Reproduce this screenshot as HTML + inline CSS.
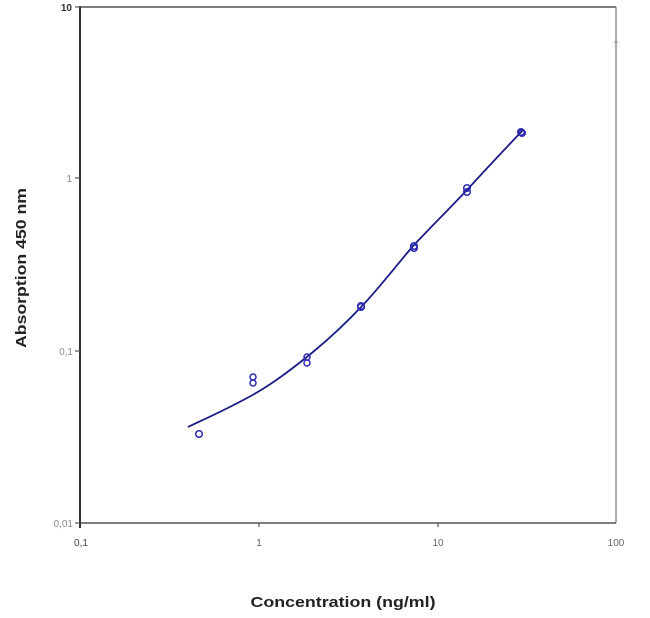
<!DOCTYPE html>
<html><head><meta charset="utf-8"><style>
html,body{margin:0;padding:0;background:#fff;}
svg{display:block;}
</style></head><body>
<svg width="650" height="618" viewBox="0 0 650 618" xmlns="http://www.w3.org/2000/svg">
<rect width="650" height="618" fill="#fff"/>
<!-- frame -->
<line x1="80" y1="7" x2="616" y2="7" stroke="#555" stroke-width="1.6"/>
<line x1="616" y1="7" x2="616" y2="523" stroke="#777" stroke-width="1.2"/>
<line x1="80" y1="523" x2="616" y2="523" stroke="#555" stroke-width="1.6"/>
<line x1="80" y1="6" x2="80" y2="528" stroke="#333" stroke-width="2"/>
<!-- ticks -->
<g stroke="#555" stroke-width="1.2">
<line x1="75" y1="7" x2="80" y2="7"/>
<line x1="75" y1="178" x2="80" y2="178"/>
<line x1="75" y1="351" x2="80" y2="351"/>
<line x1="75" y1="523" x2="80" y2="523"/>
<line x1="259" y1="523" x2="259" y2="527"/>
<line x1="438" y1="523" x2="438" y2="527"/>
<line x1="614" y1="42" x2="618" y2="42" stroke="#999"/>
</g>
<!-- tick labels -->
<g font-family="Liberation Sans, sans-serif" font-size="10" fill="#555">
<text x="72" y="11" text-anchor="end" fill="#333" font-weight="bold">10</text>
<text x="72" y="182" text-anchor="end" fill="#888">1</text>
<text x="73" y="355" text-anchor="end" fill="#888">0,1</text>
<text x="73" y="527" text-anchor="end" fill="#888">0,01</text>
<text x="81" y="546" text-anchor="middle" fill="#444">0,1</text>
<text x="259" y="546" text-anchor="middle" fill="#666">1</text>
<text x="438" y="546" text-anchor="middle" fill="#666">10</text>
<text x="616" y="546" text-anchor="middle" fill="#666">100</text>
</g>
<!-- axis titles -->
<text x="343" y="607" text-anchor="middle" font-family="Liberation Sans, sans-serif" font-size="15" font-weight="bold" fill="#222" textLength="185" lengthAdjust="spacingAndGlyphs">Concentration (ng/ml)</text>
<text transform="translate(26,268) rotate(-90)" text-anchor="middle" font-family="Liberation Sans, sans-serif" font-size="15" font-weight="bold" fill="#222" textLength="160" lengthAdjust="spacingAndGlyphs">Absorption 450 nm</text>
<!-- fit curve -->
<path d="M188,427 C207,418 227,409 247,398 C270,386 292,369 313,352 C330,338 346,323 362,306 C380,287 396,266 413,246 C431,227 449,209 467,190 C485,170 504,150 523,130" fill="none" stroke="#1c1c88" stroke-width="1.8" stroke-linejoin="round"/>
<!-- data points -->
<g fill="none" stroke="#2c2cb0" stroke-width="1.5">
<circle cx="199" cy="434" r="3.3"/>
<circle cx="253" cy="377" r="3"/>
<circle cx="253" cy="383" r="3"/>
<circle cx="307" cy="357" r="3"/>
<circle cx="307" cy="363" r="3"/>
<circle cx="361" cy="306" r="3.3"/>
<circle cx="361" cy="307" r="3.3"/>
<circle cx="414" cy="246" r="3.3"/>
<circle cx="414" cy="248" r="3.3"/>
<circle cx="467" cy="188" r="3.3"/>
<circle cx="467" cy="192" r="3.3"/>
<circle cx="521" cy="132" r="3.3"/>
<circle cx="522" cy="133" r="3.3"/>
</g>
</svg>
</body></html>
